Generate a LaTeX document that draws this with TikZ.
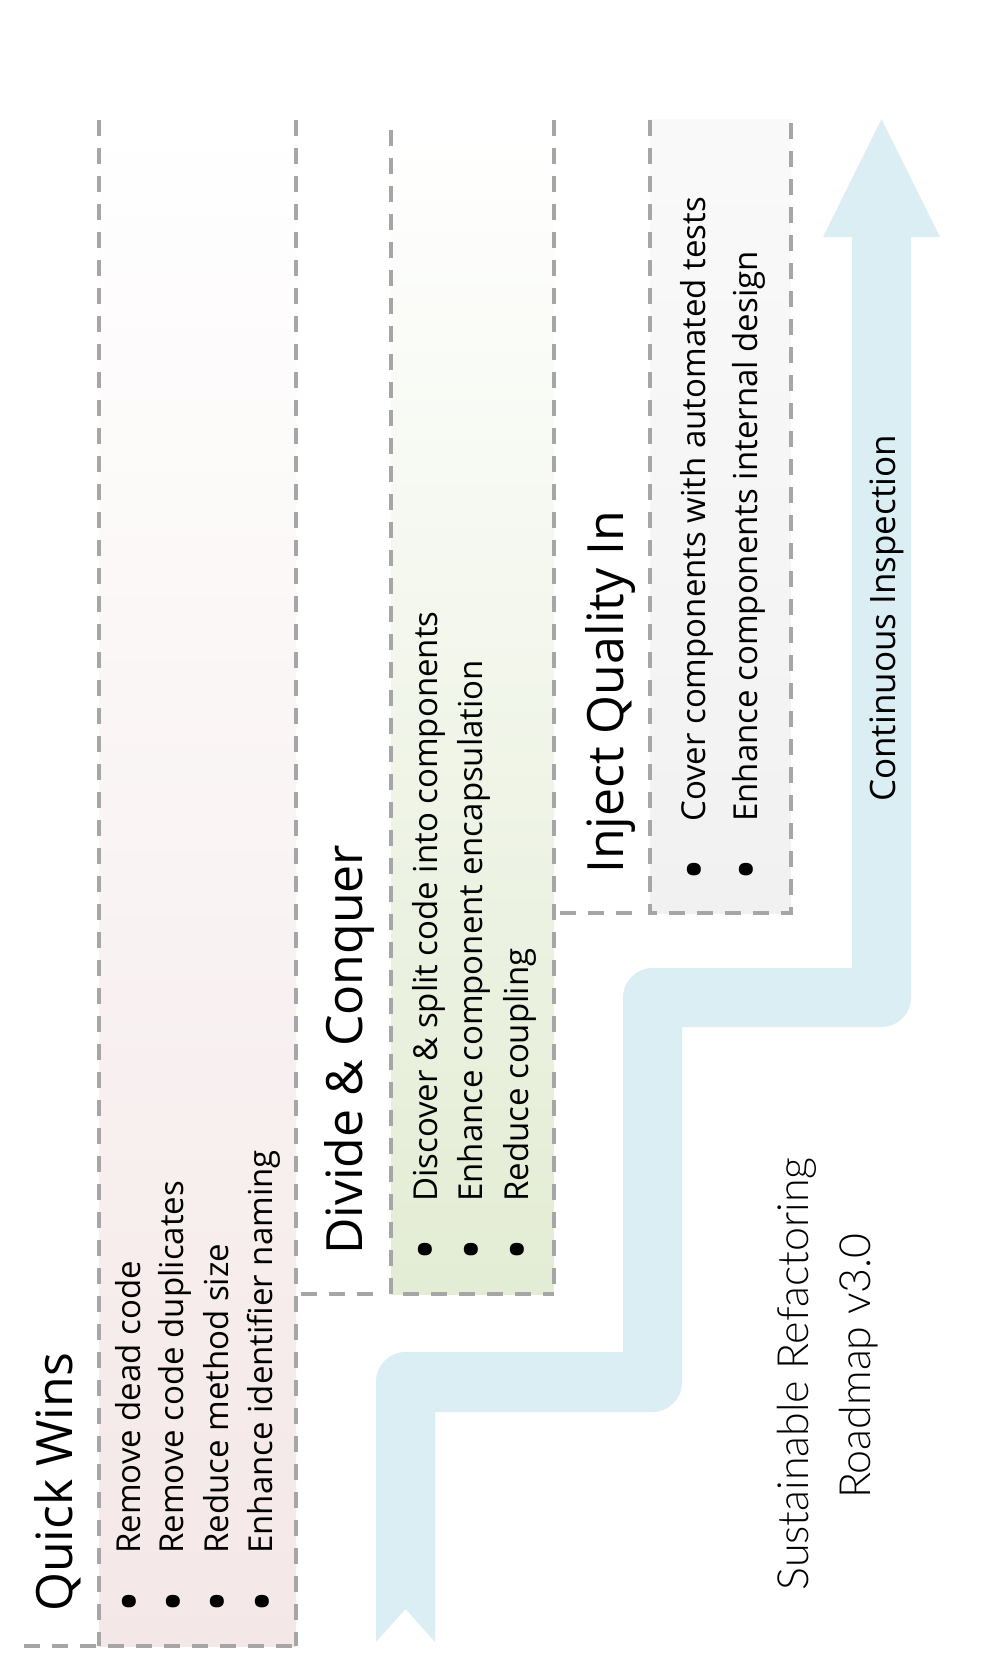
\documentclass[tikz,border=0pt]{standalone}
\usepackage{fontspec}
\setmainfont{Open Sans}
\newfontfamily\titlefont{Lato Light}
\definecolor{dashgray}{RGB}{166,166,166}
\definecolor{qwpink}{RGB}{244,231,231}
\definecolor{dcgreen}{RGB}{227,236,212}
\definecolor{iqgray}{RGB}{241,241,241}
\definecolor{arrowblue}{RGB}{218,238,243}
\begin{document}
\begin{tikzpicture}[x=1pt,y=1pt,
  dashline/.style={draw=dashgray, line width=4pt, dash pattern=on 16pt off 12pt},
  heading/.style={rotate=90, anchor=base west, inner sep=0pt, font=\fontsize{50}{60}\selectfont},
  item/.style={rotate=90, anchor=base west, inner sep=0pt, font=\fontsize{33}{40}\selectfont},
  bul/.style={rotate=90, anchor=center, inner sep=0pt, font=\fontsize{58}{60}\selectfont},
  ttl/.style={rotate=90, anchor=base, inner sep=0pt, font=\titlefont\fontsize{43}{50}\selectfont}]
\useasboundingbox (0,0) rectangle (1001,-1656);

% box fills
\shade[top color=white, bottom color=qwpink] (99,-120) rectangle (296,-1646);
\shade[top color=white, bottom color=dcgreen] (391,-130) rectangle (554,-1294);
\shade[top color=white!60!iqgray, bottom color=iqgray] (650,-120) rectangle (791,-913);

% dashed outlines
\draw[dashline] (99,-120) -- (99,-1646);
\draw[dashline] (24,-1646) -- (296,-1646);
\draw[dashline] (296,-120) -- (296,-1646);
\draw[dashline] (301,-1294) -- (373,-1294);
\draw[dashline] (391,-130) -- (391,-1294) -- (554,-1294);
\draw[dashline] (554,-120) -- (554,-1294);
\draw[dashline] (560,-913) -- (632,-913);
\draw[dashline] (650,-120) -- (650,-913) -- (791,-913) -- (791,-120);

% stepped arrow
\fill[arrowblue] (376,-1642) -- (405.5,-1609) -- (435,-1642) -- (435,-1412)
  -- (652.5,-1412) arc[start angle=-90, end angle=0, radius=29.5]
  -- (682,-1027)
  -- (881.5,-1027) arc[start angle=-90, end angle=0, radius=29.5]
  -- (911,-237) -- (940,-237) -- (881.5,-119) -- (823,-237) -- (852,-237)
  -- (852,-968)
  -- (652.5,-968) arc[start angle=90, end angle=180, radius=29.5]
  -- (623,-1352)
  -- (405.5,-1352) arc[start angle=90, end angle=180, radius=29.5]
  -- cycle;

% Quick Wins
\node[heading] (qw) at (72,-1612) {Quick Wins};
\node[bul] (qwb1) at (136,-1602) {•};
\node[bul] (qwb2) at (180,-1602) {•};
\node[bul] (qwb3) at (224,-1602) {•};
\node[bul] (qwb4) at (269,-1602) {•};
\node[item] (qw1) at (140,-1554) {Remove dead code};
\node[item] (qw2) at (183,-1554) {Remove code duplicates};
\node[item] (qw3) at (228,-1554) {Reduce method size};
\node[item] (qw4) at (272,-1554) {Enhance identifier naming};

% Divide & Conquer
\node[heading] (dc) at (362,-1255) {Divide \& Conquer};
\node[bul] (dcb1) at (432,-1250) {•};
\node[bul] (dcb2) at (478,-1250) {•};
\node[bul] (dcb3) at (524,-1250) {•};
\node[item] (dc1) at (437,-1202) {Discover \& split code into components};
\node[item] (dc2) at (482,-1202) {Enhance component encapsulation};
\node[item] (dc3) at (528,-1202) {Reduce coupling};

% Inject Quality In
\node[heading] (iq) at (623,-874) {Inject Quality In};
\node[bul] (iqb1) at (701,-870) {•};
\node[bul] (iqb2) at (753,-870) {•};
\node[item] (iq1) at (705,-822) {Cover components with automated tests};
\node[item] (iq2) at (757,-822) {Enhance components internal design};

% Continuous Inspection
\node[rotate=90, anchor=base west, inner sep=0pt, font=\fontsize{35}{42}\selectfont] (ci) at (895,-802) {Continuous Inspection};

% Title
\node[ttl] (t1) at (808,-1374) {Sustainable Refactoring};
\node[ttl] (t2) at (870,-1366) {Roadmap v3.0};
\end{tikzpicture}
\end{document}
